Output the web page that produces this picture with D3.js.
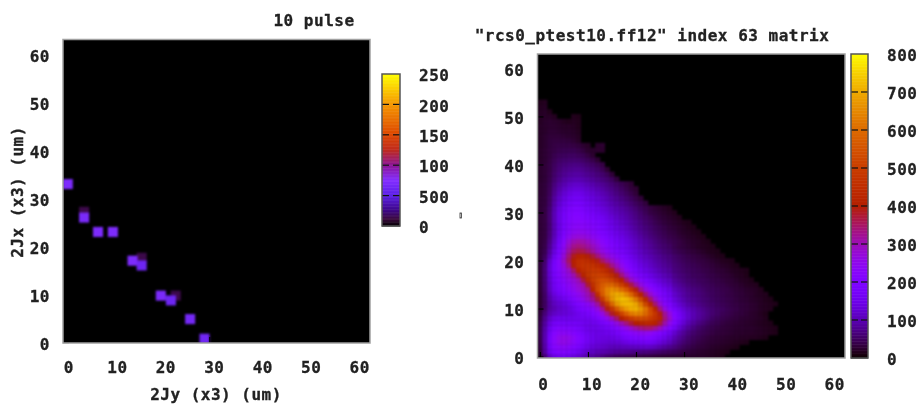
<!DOCTYPE html>
<html>
<head>
<meta charset="utf-8">
<script src="https://cdn.jsdelivr.net/npm/d3@7"></script>
<style>
  html, body { margin: 0; background: #fff; }
  text { font-family: 'DejaVu Sans Mono', monospace; font-weight: bold; font-size: 16px; letter-spacing: 0.5px; fill: #222; stroke: #222; stroke-width: 0.3px; filter: blur(0.35px); }
</style>
</head>
<body>
<svg id="chart" width="921" height="404"></svg>
<script>
// ── DATA ──
const axisTicks = [0, 10, 20, 30, 40, 50, 60];

// left plot: isolated macro particles
const spotX = [3.9, 15.9, 23, 0.5, 3.9, 6.8, 9.9, 14, 15.9, 19.9, 22, 26, 29];
const spotY = [27.2, 17.6, 9.7, 33, 26, 23, 23, 17, 16, 9.7, 8.7, 4.8, 0.7];
const spotV = [14, 14, 14, 72, 70, 72, 72, 72, 62, 70, 62, 66, 64];

const leftBarTicks  = [0, 50, 100, 150, 200, 250];
const leftBarLabels = ['0', '500', '100', '150', '200', '250'];
const rightBarTicks = [0, 100, 200, 300, 400, 500, 600, 700, 800];

// right plot: matrix rows, bottom row first, columns from 0
const rows = [
  [25,60,110,140,155,160,150,135,120,105,95,85,75,65,55,50,45,42,40,38,36,34,32,30,28,26,25,24,24,23,22,22,21,20,20,18,16,14,12],
  [30,85,150,185,200,205,195,175,155,135,120,110,100,95,90,85,80,78,75,72,70,68,66,62,58,54,50,46,42,38,34,30,27,24,22,20,18,16,14,12],
  [35,90,165,210,225,230,220,200,180,160,145,130,122,115,110,105,105,105,105,108,112,115,115,112,105,95,85,75,65,55,46,40,35,30,28,25,22,20,18,16,14,12],
  [38,95,170,225,250,255,245,225,200,180,160,145,135,128,125,125,128,132,140,150,155,160,162,160,150,135,120,105,85,70,58,50,42,36,32,28,26,24,22,20,18,16,14,12],
  [40,95,170,225,250,258,250,230,205,185,165,150,140,135,135,140,148,158,170,182,192,198,200,195,182,165,145,125,100,82,68,56,48,42,36,32,28,26,24,22,20,20,18,18,16,16,14,12],
  [42,95,160,210,230,232,225,208,190,172,158,148,142,142,148,158,172,188,205,222,235,245,248,240,222,200,175,150,120,96,80,66,56,48,42,38,34,30,28,26,24,22,22,20,20,18,18,16,14,12],
  [42,92,150,190,205,205,198,188,175,162,152,148,148,152,165,182,205,230,255,285,312,330,342,342,322,290,245,205,160,125,100,82,68,56,48,42,38,34,30,28,26,24,24,22,22,20,18,16,14,12],
  [40,85,135,165,175,175,172,168,162,158,155,155,160,172,192,222,260,300,335,372,402,422,432,425,410,370,305,250,195,152,122,100,84,70,60,50,44,40,34,30,28,26,24,22,20,18,16,14,12],
  [35,75,115,140,150,150,150,150,152,156,160,170,185,210,248,295,345,400,445,490,522,532,522,492,460,420,335,280,215,172,140,116,98,84,72,62,52,46,40,36,32,30,26,24,22,20,18,14],
  [30,62,95,112,122,128,134,140,150,162,178,195,222,262,318,380,440,510,572,622,642,632,592,532,472,392,320,265,205,165,136,116,100,86,76,66,58,52,44,40,36,32,30,26,22,20,16,12],
  [26,50,85,100,115,125,135,150,170,190,205,225,262,322,392,472,562,630,675,700,705,670,612,522,422,330,262,212,170,145,122,106,94,82,72,64,58,52,48,42,38,36,30,28,24,22,18,16,14],
  [25,48,85,108,122,135,150,170,192,212,235,268,315,382,482,592,670,705,715,715,690,622,522,422,340,272,222,188,148,124,106,92,82,72,64,58,54,48,44,40,36,34,30,28,24,22,18,16,14,12],
  [26,50,92,120,140,158,178,200,225,250,282,320,372,482,592,665,710,725,715,680,620,532,432,345,280,232,195,168,132,112,96,84,76,68,60,56,50,46,42,38,36,32,28,26,22,20,18,14,12],
  [26,52,100,135,160,182,205,225,245,270,300,345,452,562,635,680,700,690,650,592,502,412,340,282,238,202,175,152,118,102,88,78,70,64,58,52,48,44,40,36,34,30,28,24,22,18,16,14],
  [28,55,108,148,175,198,222,245,268,292,322,422,522,575,635,655,640,600,552,472,392,325,272,235,202,176,154,136,105,92,82,72,66,60,54,48,46,42,38,36,32,28,26,22,20,18,14],
  [28,58,112,155,185,210,235,258,282,305,375,455,520,565,590,590,555,500,435,365,312,262,225,195,170,150,132,118,92,82,72,64,58,54,48,46,42,38,36,32,28,26,22,18,16,14],
  [30,60,118,165,198,225,250,272,300,365,435,490,525,540,535,510,465,410,345,290,250,215,188,165,146,130,116,104,82,72,64,58,54,48,46,42,38,36,32,28,26,22,18,16,12],
  [30,62,122,170,208,240,265,300,355,415,470,500,505,500,480,445,390,335,285,240,208,182,160,142,126,114,102,92,74,66,60,54,48,46,42,38,36,32,28,26,22,18,16,12],
  [30,62,125,175,215,250,285,345,410,450,475,485,480,460,430,385,330,285,240,205,180,158,140,124,112,100,90,82,66,60,54,50,46,42,38,36,32,28,26,22,18,16,14,12],
  [30,60,122,175,220,265,325,395,445,465,470,465,440,410,375,330,290,250,212,182,160,142,126,112,100,90,82,74,62,56,50,46,42,38,34,32,28,24,20,18,14,12],
  [30,55,115,170,220,285,350,405,445,455,445,420,390,350,315,285,255,222,192,168,148,130,116,104,92,84,76,68,58,52,46,42,38,34,32,28,24,20,16,14,12],
  [30,48,95,150,205,270,335,385,410,415,395,370,335,300,270,248,222,196,172,152,136,120,106,96,86,78,70,64,54,48,42,38,34,30,26,22,18,14,12],
  [30,42,85,135,190,250,310,350,365,360,340,315,285,260,236,214,196,176,156,140,126,112,98,88,78,70,62,56,46,40,36,32,28,24,20,16,14,12],
  [28,38,75,120,175,235,290,325,335,328,312,292,268,242,218,198,180,162,146,130,116,102,90,80,70,62,56,50,40,34,30,26,22,18,16,14,12],
  [28,36,68,110,160,220,270,300,310,305,290,270,248,225,204,185,168,152,136,122,108,96,84,74,64,56,50,44,38,34,28,24,20,18,14,12],
  [28,34,62,102,150,200,240,265,272,270,258,242,224,206,188,172,156,142,126,112,100,88,76,66,58,50,44,38,34,28,24,20,18,14,12],
  [28,34,60,100,145,188,222,242,248,245,236,222,206,190,174,160,146,132,118,104,92,80,70,60,52,46,40,34,30,24,20,18,14,12],
  [28,34,58,100,142,180,212,228,232,228,220,208,194,178,164,150,136,122,108,96,84,74,64,56,48,42,36,30,26,22,18,14,12],
  [28,34,58,100,142,176,204,218,222,218,208,196,182,168,154,140,126,112,100,88,78,68,58,50,42,36,30,26,22,18,14,12],
  [28,34,58,100,140,172,198,210,212,206,194,182,168,154,140,128,114,102,92,80,70,60,52,44,36,30,26,22,18,14],
  [28,34,58,100,140,170,195,205,205,195,180,170,155,140,130,115,105,95,85,75,65,55,45,35,30,26,22,18,14],
  [28,34,56,96,134,162,186,194,194,184,172,160,146,132,120,108,98,88,78,68,58,48,40,32,26,22,18,14],
  [28,32,52,90,124,150,172,180,180,172,160,148,134,120,110,98,88,78,68,58,48,40,30],
  [28,32,50,84,114,138,156,164,164,156,146,134,122,110,100,88,78,68,58,48,38,28],
  [26,30,46,76,102,124,140,148,148,142,132,122,110,100,90,78,68,58,48,38,28],
  [26,30,44,70,92,110,124,130,130,126,118,108,98,88,78,70,60,50,40,30,24],
  [26,30,42,64,84,98,110,116,116,112,104,96,86,78,70,60,52,42,34,26],
  [24,28,40,58,74,88,96,100,100,96,90,82,74,66,58,48,30],
  [24,28,38,54,68,78,86,88,88,84,78,72,64,56,46,28],
  [24,28,36,50,62,72,76,78,78,74,68,62,54,44,26],
  [24,28,36,48,58,64,68,70,68,64,58,52,44,34],
  [22,26,34,44,52,56,58,58,56,52,46,38,26],
  [22,26,32,40,46,48,50,50,46,42,34,24],
  [22,26,32,36,40,42,42,42,38,32,24,22,24,22],
  [20,24,30,34,36,36,36,34,30,24,20,0,22,24],
  [20,24,30,32,32,32,30,26,20],
  [20,24,28,28,28,26,24,22,18],
  [20,22,26,26,24,22,22,20,16],
  [20,22,24,24,22,20,20,18,14],
  [18,22,24,22,20,16,14,16,14],
  [18,20,20,16,0,0,0,14,12],
  [18,20,14],
  [16,18],
  [14,16],
];

// ── COLOURS ──
// left bar was resampled, so its stops are picked by eye
const leftColor = d3.scaleLinear()
  .domain([0, 12, 25, 50, 75, 100, 125, 150, 200, 250])
  .range(['#000000', '#3c0a40', '#3c0682', '#5a1ee6', '#822dff', '#8c1496', '#be2a1e', '#dc4600', '#f59600', '#ffff00'])
  .clamp(true);

// gnuplot pm3d default palette (rgbformulae 7,5,15)
const rightColor = v => {
  const t = v / 800;
  const b = Math.max(0, Math.sin(2 * Math.PI * t));
  return d3.rgb(255 * Math.sqrt(t), 255 * t * t * t, 255 * b).formatRgb();
};

const svg = d3.select('#chart');

function drawPanel(box, yDomain) {
  const x = d3.scaleLinear([-0.5, 63.5], [box.left, box.right]);
  const y = d3.scaleLinear(yDomain, [box.bottom, box.top]);

  const g = svg.append('g');
  g.append('rect')
    .attr('x', box.left).attr('y', box.top)
    .attr('width', box.right - box.left).attr('height', box.bottom - box.top)
    .attr('fill', '#000');

  const heat = g.append('g').attr('clip-path', `url(#${box.clip})`)
    .append('g').style('filter', 'blur(0.8px)');
  svg.append('clipPath').attr('id', box.clip).append('rect')
    .attr('x', box.left).attr('y', box.top)
    .attr('width', box.right - box.left).attr('height', box.bottom - box.top);

  const bottom = g.append('g')
    .attr('transform', `translate(0,${box.bottom})`)
    .call(d3.axisBottom(x).tickValues(axisTicks).tickSizeInner(-6).tickSizeOuter(0).tickPadding(box.padX));
  const left = g.append('g')
    .attr('transform', `translate(${box.left},0)`)
    .call(d3.axisLeft(y).tickValues(axisTicks).tickSizeInner(-6).tickSizeOuter(0).tickPadding(13));

  [bottom, left].forEach(a => {
    a.select('.domain').remove();
    a.selectAll('.tick line').attr('stroke', '#000').attr('stroke-width', 1.2);
    a.selectAll('.tick text').attr('fill', null);
  });
  bottom.selectAll('.tick text').attr('dx', d => 3 + d * 0.05);
  left.selectAll('.tick text').attr('y', 2);

  // frame on top of the ticks
  g.append('rect')
    .attr('x', box.left).attr('y', box.top)
    .attr('width', box.right - box.left).attr('height', box.bottom - box.top)
    .attr('fill', 'none').attr('stroke', '#a0a0a0').attr('stroke-width', 1.5);

  return { x, y, heat };
}

function drawBar(box, domainMax, color, ticks, labels) {
  const y = d3.scaleLinear([0, domainMax], [box.bottom, box.top]);
  const g = svg.append('g');
  const steps = d3.range(0, domainMax, domainMax / 200);

  g.selectAll('rect.step').data(steps).join('rect')
    .attr('class', 'step')
    .attr('x', box.left).attr('width', box.right - box.left)
    .attr('y', d => y(d + domainMax / 200))
    .attr('height', d => y(d) - y(d + domainMax / 200) + 0.5)
    .attr('fill', d => color(d));

  // dashed-looking ticks: one stub from each edge
  const inner = ticks.filter(d => d > 0 && d < domainMax);
  [[box.left, box.left + 7], [box.right - 7, box.right]].forEach(([a, b]) => {
    g.selectAll(null).data(inner).join('line')
      .attr('x1', a).attr('x2', b)
      .attr('y1', d => y(d)).attr('y2', d => y(d))
      .attr('stroke', '#111').attr('stroke-width', 1.2);
  });

  g.append('rect')
    .attr('x', box.left).attr('y', box.top)
    .attr('width', box.right - box.left).attr('height', box.bottom - box.top)
    .attr('fill', 'none').attr('stroke', '#555').attr('stroke-width', 1.5);

  g.selectAll('text').data(ticks).join('text')
    .attr('x', box.labelX)
    .attr('y', d => y(d) + 1.5)
    .attr('dy', '0.36em')
    .text((d, i) => labels[i]);
}

// ── LEFT PANEL ──
const leftPanel = drawPanel(
  { left: 63, right: 370, top: 39.5, bottom: 343, clip: 'clip-left', padX: 19 },
  [-0.2, 63.2]
);
leftPanel.heat.selectAll('rect').data(spotV).join('rect')
  .attr('x', (d, i) => leftPanel.x(spotX[i] - 1.05))
  .attr('y', (d, i) => leftPanel.y(spotY[i] + 1.05))
  .attr('width', (d, i) => leftPanel.x(spotX[i] + 1.05) - leftPanel.x(spotX[i] - 1.05))
  .attr('height', (d, i) => leftPanel.y(spotY[i] - 1.05) - leftPanel.y(spotY[i] + 1.05))
  .attr('fill', d => leftColor(d));

drawBar({ left: 382, right: 400, top: 74, bottom: 226, labelX: 419 },
  250, leftColor, leftBarTicks, leftBarLabels);

// ── RIGHT PANEL ──
const rightPanel = drawPanel(
  { left: 537.5, right: 845, top: 54, bottom: 358, clip: 'clip-right', padX: 21 },
  [-0.3, 63]
);
const cells = rows.flatMap((row, r) => row.map((v, c) => ({ r, c, v }))).filter(d => d.v > 0);
rightPanel.heat.selectAll('rect').data(cells).join('rect')
  .attr('x', d => rightPanel.x(d.c - 0.5))
  .attr('y', d => rightPanel.y(d.r + 0.5))
  .attr('width', d => rightPanel.x(d.c + 0.5) - rightPanel.x(d.c - 0.5) + 0.3)
  .attr('height', d => rightPanel.y(d.r - 0.5) - rightPanel.y(d.r + 0.5) + 0.3)
  .attr('fill', d => rightColor(d.v));

drawBar({ left: 851, right: 868, top: 54, bottom: 358, labelX: 887 },
  800, rightColor, rightBarTicks, rightBarTicks.map(String));

// ── TITLES ──
svg.append('text').attr('x', 314).attr('y', 26).attr('text-anchor', 'middle').text('10 pulse');
svg.append('text').attr('x', 652).attr('y', 41).attr('text-anchor', 'middle')
  .text('"rcs0_ptest10.ff12" index 63 matrix');
svg.append('text').attr('x', 216).attr('y', 400).attr('text-anchor', 'middle').text('2Jy (x3) (um)');
svg.append('text').attr('text-anchor', 'middle')
  .attr('transform', 'translate(23,192) rotate(-90)').text('2Jx (x3) (um)');

// stray mark between the panels
svg.append('rect').attr('x', 460).attr('y', 213).attr('width', 1.5).attr('height', 5)
  .attr('fill', 'none').attr('stroke', '#333').attr('stroke-width', 0.8);
</script>
</body>
</html>
